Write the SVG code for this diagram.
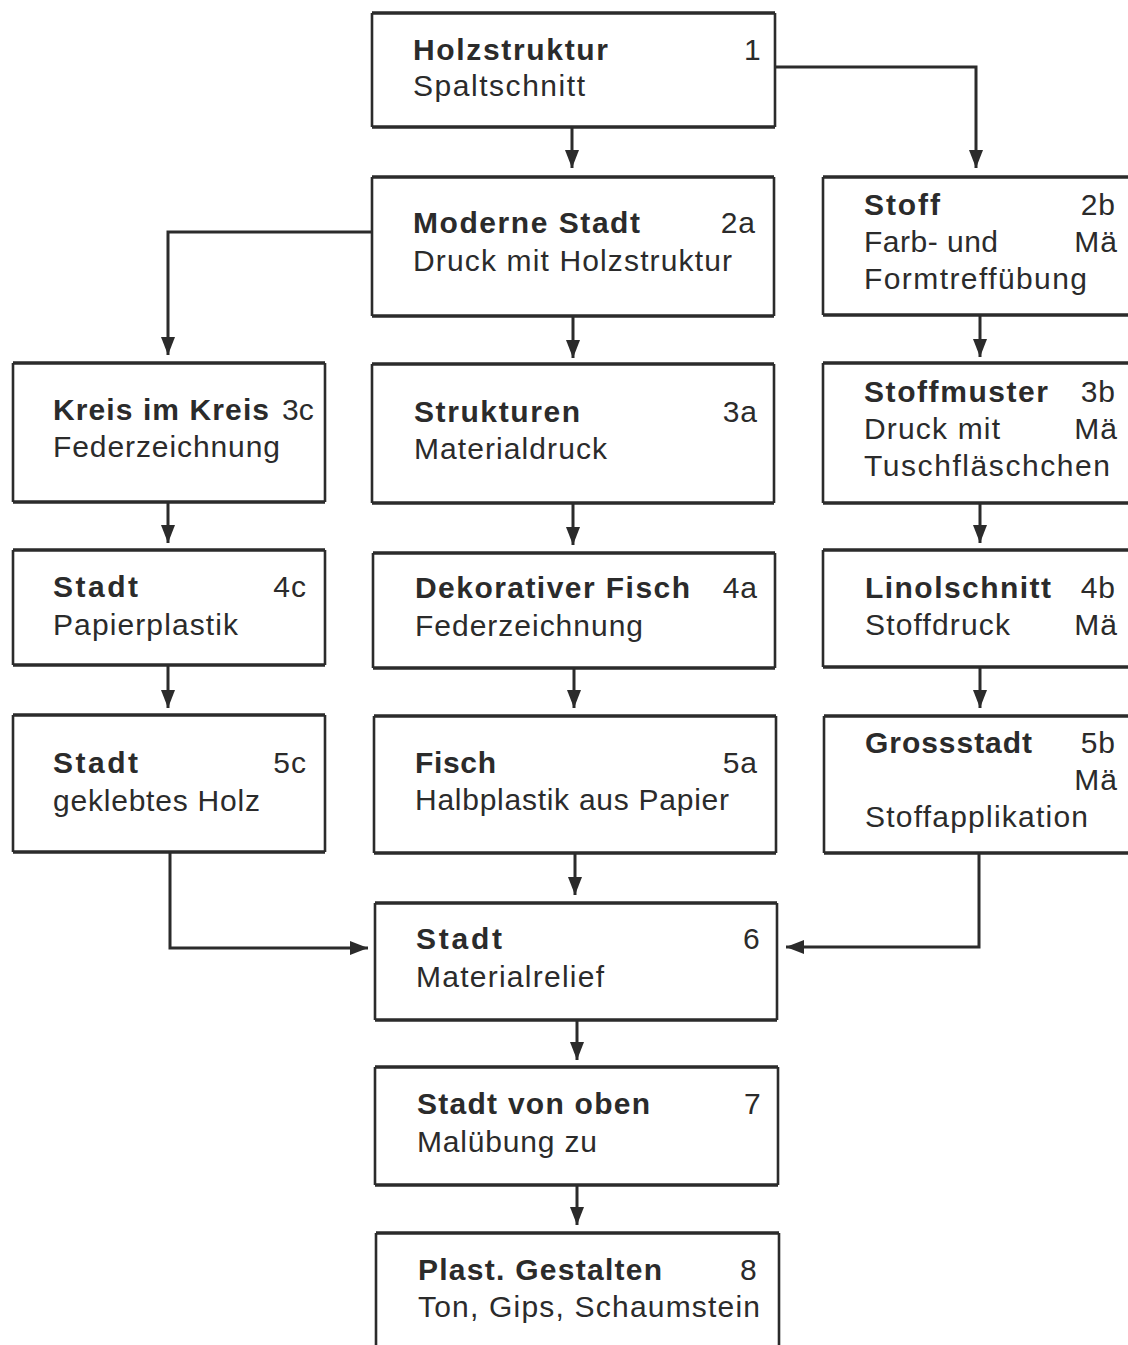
<svg xmlns="http://www.w3.org/2000/svg" width="1128" height="1345" viewBox="0 0 1128 1345">
<style>
.bg{fill:#ffffff}
.box{fill:none;stroke:#2b2b2b;stroke-width:2.6}
.edge{fill:none;stroke:#2b2b2b;stroke-width:3.4}
.t{font-family:"Liberation Sans",Arial,Helvetica,sans-serif;font-size:30px;fill:#2b2b2b}
.b{font-weight:bold}
.n{text-anchor:end;letter-spacing:1px}
.c{fill:none;stroke:#2b2b2b;stroke-width:3}
</style>
<defs>
<marker id="ah" markerUnits="userSpaceOnUse" markerWidth="20" markerHeight="16" refX="18" refY="7" orient="auto">
<path d="M0,0 L18,7 L0,14 z" fill="#2b2b2b"/>
</marker>
</defs>
<rect class="bg" x="0" y="0" width="1128" height="1345"/>

<g id="connectors">
<path class="c" d="M572,128 V168" marker-end="url(#ah)"/>
<path class="c" d="M775,67 H976 V168" marker-end="url(#ah)"/>
<path class="c" d="M372,232 H168 V355" marker-end="url(#ah)"/>
<path class="c" d="M573,317 V358" marker-end="url(#ah)"/>
<path class="c" d="M980,316 V357" marker-end="url(#ah)"/>
<path class="c" d="M168,503 V543" marker-end="url(#ah)"/>
<path class="c" d="M573,504 V545" marker-end="url(#ah)"/>
<path class="c" d="M980,504 V543" marker-end="url(#ah)"/>
<path class="c" d="M168,666 V708" marker-end="url(#ah)"/>
<path class="c" d="M574,669 V708" marker-end="url(#ah)"/>
<path class="c" d="M980,668 V708" marker-end="url(#ah)"/>
<path class="c" d="M170,853 V948 H368" marker-end="url(#ah)"/>
<path class="c" d="M575,854 V895" marker-end="url(#ah)"/>
<path class="c" d="M979,854 V947 H786" marker-end="url(#ah)"/>
<path class="c" d="M577,1021 V1060" marker-end="url(#ah)"/>
<path class="c" d="M577,1186 V1225" marker-end="url(#ah)"/>
</g>

<g id="n1">
<path class="box" d="M372,13 V127 M775,13 V127"/>
<path class="edge" d="M372,13 H775 M372,127 H775"/>
<text class="t b" x="413" y="60" textLength="195" lengthAdjust="spacing">Holzstruktur</text>
<text class="t" x="744" y="60">1</text>
<text class="t" x="413" y="96" textLength="172" lengthAdjust="spacing">Spaltschnitt</text>
</g>

<g id="n2a">
<path class="box" d="M372,177 V316 M774,177 V316"/>
<path class="edge" d="M372,177 H774 M372,316 H774"/>
<text class="t b" x="413" y="233" textLength="227" lengthAdjust="spacing">Moderne Stadt</text>
<text class="t n" x="756" y="233">2a</text>
<text class="t" x="413" y="271" textLength="319" lengthAdjust="spacing">Druck mit Holzstruktur</text>
</g>

<g id="n2b">
<path class="box" d="M823,177 V315"/>
<path class="edge" d="M823,177 H1135 M823,315 H1135"/>
<text class="t b" x="864" y="215" textLength="76" lengthAdjust="spacing">Stoff</text>
<text class="t n" x="1116" y="215">2b</text>
<text class="t" x="864" y="252" textLength="134" lengthAdjust="spacing">Farb- und</text>
<text class="t n" x="1118" y="252">Mä</text>
<text class="t" x="864" y="289" textLength="223" lengthAdjust="spacing">Formtreffübung</text>
</g>

<g id="n3c">
<path class="box" d="M13,363 V502 M325,363 V502"/>
<path class="edge" d="M13,363 H325 M13,502 H325"/>
<text class="t b" x="53" y="420" textLength="216" lengthAdjust="spacing">Kreis im Kreis</text>
<text class="t" x="282" y="420">3c</text>
<text class="t" x="53" y="457" textLength="227" lengthAdjust="spacing">Federzeichnung</text>
</g>

<g id="n3a">
<path class="box" d="M372,364 V503 M774,364 V503"/>
<path class="edge" d="M372,364 H774 M372,503 H774"/>
<text class="t b" x="414" y="422" textLength="166" lengthAdjust="spacing">Strukturen</text>
<text class="t n" x="758" y="422">3a</text>
<text class="t" x="414" y="459" textLength="193" lengthAdjust="spacing">Materialdruck</text>
</g>

<g id="n3b">
<path class="box" d="M823,363 V503"/>
<path class="edge" d="M823,363 H1135 M823,503 H1135"/>
<text class="t b" x="864" y="402" textLength="184" lengthAdjust="spacing">Stoffmuster</text>
<text class="t n" x="1116" y="402">3b</text>
<text class="t" x="864" y="439" textLength="136" lengthAdjust="spacing">Druck mit</text>
<text class="t n" x="1118" y="439">Mä</text>
<text class="t" x="864" y="476" textLength="246" lengthAdjust="spacing">Tuschfläschchen</text>
</g>

<g id="n4c">
<path class="box" d="M13,550 V665 M325,550 V665"/>
<path class="edge" d="M13,550 H325 M13,665 H325"/>
<text class="t b" x="53" y="597" textLength="85" lengthAdjust="spacing">Stadt</text>
<text class="t n" x="307" y="597">4c</text>
<text class="t" x="53" y="635" textLength="185" lengthAdjust="spacing">Papierplastik</text>
</g>

<g id="n4a">
<path class="box" d="M373,553 V668 M775,553 V668"/>
<path class="edge" d="M373,553 H775 M373,668 H775"/>
<text class="t b" x="415" y="598" textLength="275" lengthAdjust="spacing">Dekorativer Fisch</text>
<text class="t n" x="758" y="598">4a</text>
<text class="t" x="415" y="636" textLength="228" lengthAdjust="spacing">Federzeichnung</text>
</g>

<g id="n4b">
<path class="box" d="M823,550 V667"/>
<path class="edge" d="M823,550 H1135 M823,667 H1135"/>
<text class="t b" x="865" y="598" textLength="186" lengthAdjust="spacing">Linolschnitt</text>
<text class="t n" x="1116" y="598">4b</text>
<text class="t" x="865" y="635" textLength="145" lengthAdjust="spacing">Stoffdruck</text>
<text class="t n" x="1118" y="635">Mä</text>
</g>

<g id="n5c">
<path class="box" d="M13,715 V852 M325,715 V852"/>
<path class="edge" d="M13,715 H325 M13,852 H325"/>
<text class="t b" x="53" y="773" textLength="85" lengthAdjust="spacing">Stadt</text>
<text class="t n" x="307" y="773">5c</text>
<text class="t" x="53" y="811" textLength="207" lengthAdjust="spacing">geklebtes Holz</text>
</g>

<g id="n5a">
<path class="box" d="M374,716 V853 M776,716 V853"/>
<path class="edge" d="M374,716 H776 M374,853 H776"/>
<text class="t b" x="415" y="773" textLength="81" lengthAdjust="spacing">Fisch</text>
<text class="t n" x="758" y="773">5a</text>
<text class="t" x="415" y="810" textLength="314" lengthAdjust="spacing">Halbplastik aus Papier</text>
</g>

<g id="n5b">
<path class="box" d="M824,716 V853"/>
<path class="edge" d="M824,716 H1135 M824,853 H1135"/>
<text class="t b" x="865" y="753" textLength="167" lengthAdjust="spacing">Grossstadt</text>
<text class="t n" x="1116" y="753">5b</text>
<text class="t n" x="1118" y="790">Mä</text>
<text class="t" x="865" y="827" textLength="223" lengthAdjust="spacing">Stoffapplikation</text>
</g>

<g id="n6">
<path class="box" d="M375,903 V1020 M777,903 V1020"/>
<path class="edge" d="M375,903 H777 M375,1020 H777"/>
<text class="t b" x="416" y="949" textLength="86" lengthAdjust="spacing">Stadt</text>
<text class="t" x="743" y="949">6</text>
<text class="t" x="416" y="987" textLength="188" lengthAdjust="spacing">Materialrelief</text>
</g>

<g id="n7">
<path class="box" d="M375,1067 V1185 M778,1067 V1185"/>
<path class="edge" d="M375,1067 H778 M375,1185 H778"/>
<text class="t b" x="417" y="1114" textLength="233" lengthAdjust="spacing">Stadt von oben</text>
<text class="t" x="744" y="1114">7</text>
<text class="t" x="417" y="1152" textLength="180" lengthAdjust="spacing">Malübung zu</text>
</g>

<g id="n8">
<path class="box" d="M376,1233 V1350 M779,1233 V1350"/>
<path class="edge" d="M376,1233 H779"/>
<text class="t b" x="418" y="1280" textLength="244" lengthAdjust="spacing">Plast. Gestalten</text>
<text class="t" x="740" y="1280">8</text>
<text class="t" x="418" y="1317" textLength="342" lengthAdjust="spacing">Ton, Gips, Schaumstein</text>
</g>
</svg>
